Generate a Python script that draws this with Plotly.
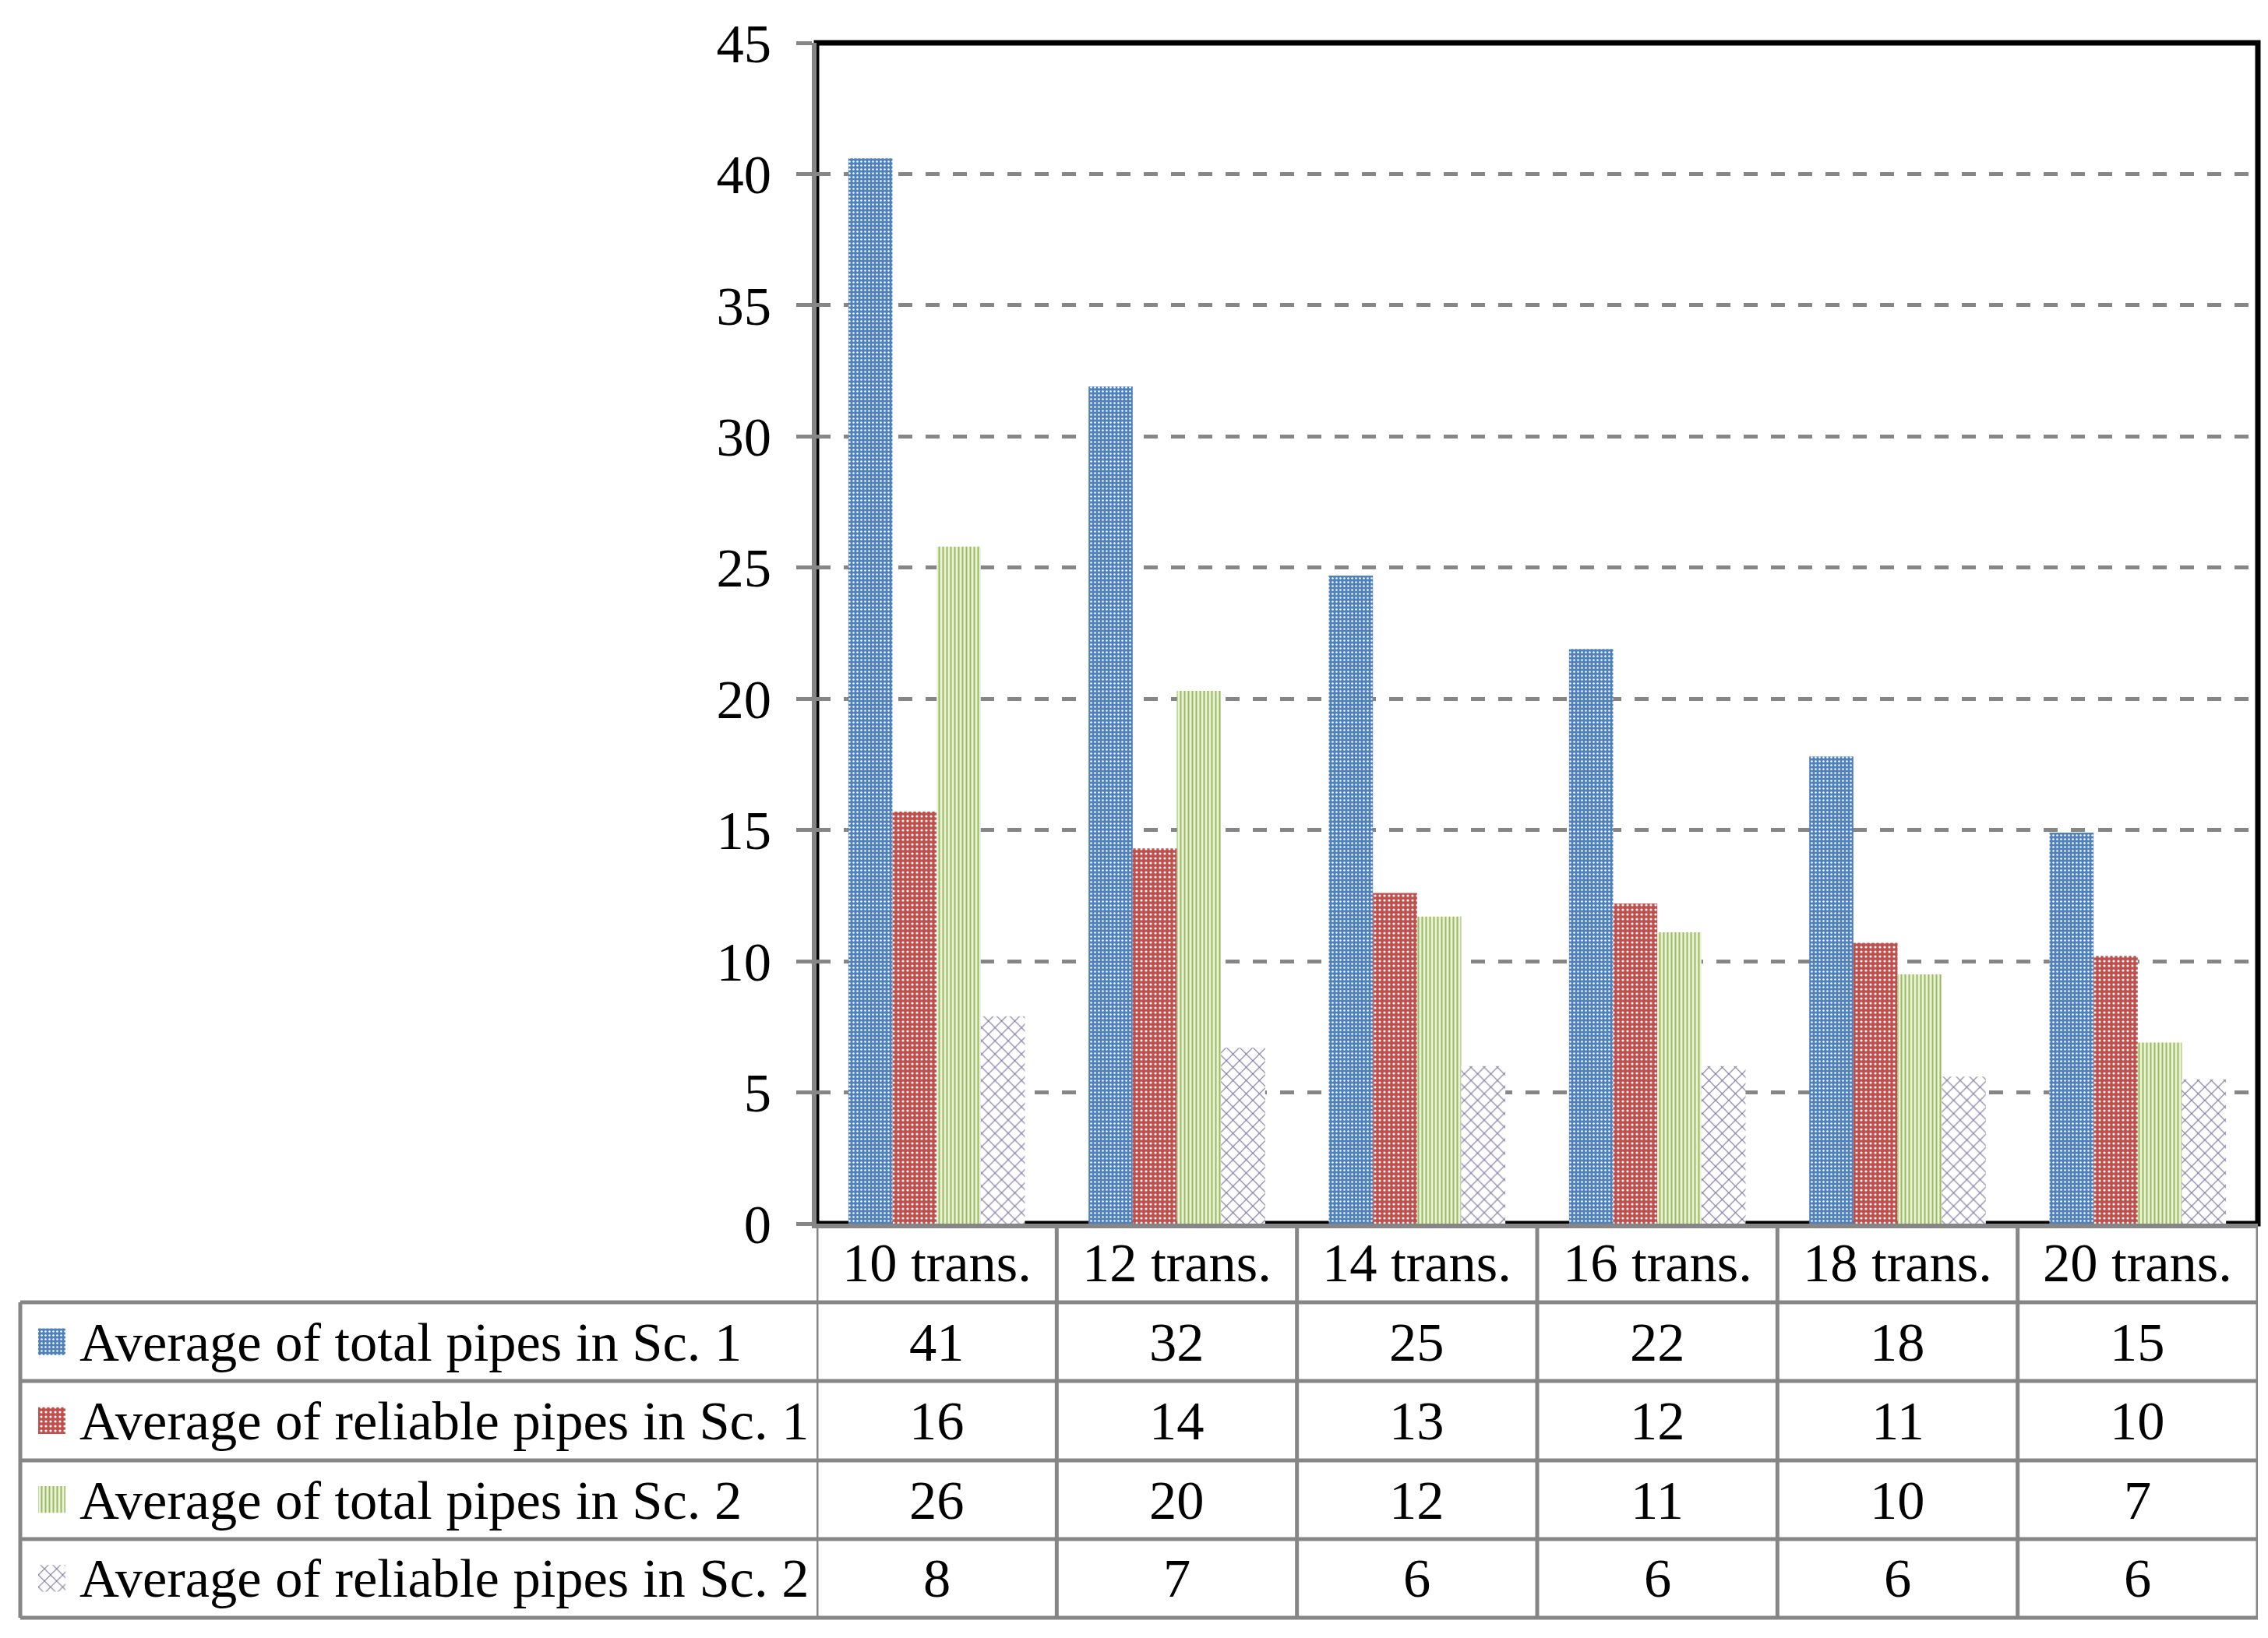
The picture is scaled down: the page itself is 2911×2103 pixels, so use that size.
import plotly.graph_objects as go

# ---- data ----
categories = ["10 trans.", "12 trans.", "14 trans.", "16 trans.", "18 trans.", "20 trans."]

series_names = [
    "Average of total pipes in Sc. 1",
    "Average of reliable pipes in Sc. 1",
    "Average of total pipes in Sc. 2",
    "Average of reliable pipes in Sc. 2",
]

total_sc1 = [40.6, 31.9, 24.7, 21.9, 17.8, 14.9]
reliable_sc1 = [15.7, 14.3, 12.6, 12.2, 10.7, 10.2]
total_sc2 = [25.8, 20.3, 11.7, 11.1, 9.5, 6.9]
reliable_sc2 = [7.9, 6.7, 6.0, 6.0, 5.6, 5.5]

table_total_sc1 = [41, 32, 25, 22, 18, 15]
table_reliable_sc1 = [16, 14, 13, 12, 11, 10]
table_total_sc2 = [26, 20, 12, 11, 10, 7]
table_reliable_sc2 = [8, 7, 6, 6, 6, 6]

y_ticks = [0, 5, 10, 15, 20, 25, 30, 35, 40, 45]

# ---- styling ----
FONT = "Liberation Serif"
FS = 70.5
GRAY = "#868686"

# pattern styles per series (blue dots, red dots, green stripes, purple cross-hatch)
pat_shape = [".", ".", "|", "x"]
pat_fg = ["white", "white", "#9BBB59", "#7D739E"]
pat_bg = ["#4F81BD", "#C0504D", "#EAF1DD", "white"]
pat_size = [5, 6, 5, 12]
pat_sol = [0.2, 0.22, 0.4, 0.19]

# page has an 8px body margin; vertical targets get a small correction
BODY = 8
VS = 1.0165


def vy(Y):
    return Y * VS


TABLE_LEFT, PLOT_RIGHT = 26, 2898
PLOT_TOP, TABLE_BOTTOM = vy(54), vy(2076)
AXIS_LEFT = 1048
ZERO_Y = vy(1570)
row_lines = [vy(y) for y in (1570, 1671, 1772, 1874, 1975, 2076)]

W = 2911 - 2 * BODY
H = round(TABLE_BOTTOM - BODY + 12)

M_L = TABLE_LEFT - BODY
M_R = W - (PLOT_RIGHT - BODY)
M_T = PLOT_TOP - BODY
M_B = H - (TABLE_BOTTOM - BODY)
plot_w = PLOT_RIGHT - TABLE_LEFT
plot_h = TABLE_BOTTOM - PLOT_TOP


def px_x(X):
    return (X - TABLE_LEFT) / plot_w


def px_y(Y):
    return (TABLE_BOTTOM - Y) / plot_h


values = [total_sc1, reliable_sc1, total_sc2, reliable_sc2]
table_vals = [table_total_sc1, table_reliable_sc1, table_total_sc2, table_reliable_sc2]

fig = go.Figure()

for i, name in enumerate(series_names):
    fig.add_trace(go.Bar(
        x=categories, y=values[i], name=name,
        marker=dict(
            color=pat_bg[i],
            line=dict(width=0),
            pattern=dict(shape=pat_shape[i], fgcolor=pat_fg[i], bgcolor=pat_bg[i],
                         size=pat_size[i], solidity=pat_sol[i], fillmode="replace"),
        ),
        showlegend=False,
    ))

# small patterned squares in the table's legend column
for i, name in enumerate(series_names):
    fig.add_trace(go.Bar(
        x=[1], y=[name], orientation="h",
        xaxis="x2", yaxis="y2", width=0.34, offset=-0.17, showlegend=False,
        marker=dict(
            color=pat_bg[i],
            line=dict(width=0),
            pattern=dict(shape=pat_shape[i], fgcolor=pat_fg[i], bgcolor=pat_bg[i],
                         size=[5, 6, 5, 11][i], solidity=pat_sol[i], fillmode="replace"),
        ),
    ))

shapes = []
# black frame around the plot area
shapes.append(dict(type="rect", xref="x domain", yref="y domain", x0=0, x1=1, y0=0, y1=1,
                   line=dict(color="black", width=7), layer="below"))
# table horizontal rules
for Y in row_lines[1:]:
    shapes.append(dict(type="line", xref="paper", yref="paper", x0=0, x1=1,
                       y0=px_y(Y), y1=px_y(Y), line=dict(color=GRAY, width=5)))
# table left border
shapes.append(dict(type="line", xref="paper", yref="paper", x0=0, x1=0,
                   y0=px_y(row_lines[-1]), y1=px_y(row_lines[1]), line=dict(color=GRAY, width=5)))
# category column dividers
for k in range(len(categories) + 1):
    shapes.append(dict(type="line", xref="x", yref="paper", x0=k - 0.5, x1=k - 0.5,
                       y0=0, y1=px_y(ZERO_Y), line=dict(color=GRAY, width=5)))

txt = dict(family=FONT, size=FS, color="black")
annotations = []
# category header row
for c in categories:
    annotations.append(dict(x=c, xref="x", yref="paper", xanchor="center", yanchor="middle",
                            y=px_y((row_lines[0] + row_lines[1]) / 2),
                            text=c, showarrow=False, font=txt))
# data rows
for r, name in enumerate(series_names):
    yc = px_y((row_lines[r + 1] + row_lines[r + 2]) / 2)
    annotations.append(dict(x=px_x(100), xref="paper", yref="paper", y=yc,
                            xanchor="left", yanchor="middle",
                            text=name, showarrow=False, font=txt))
    for c, v in zip(categories, table_vals[r]):
        annotations.append(dict(x=c, xref="x", yref="paper", y=yc, text=str(v),
                                xanchor="center", yanchor="middle",
                                showarrow=False, font=txt))

fig.update_layout(
    width=W, height=H,
    margin=dict(l=M_L, r=M_R, t=M_T, b=M_B, pad=0),
    paper_bgcolor="white", plot_bgcolor="white",
    barmode="group", bargap=0.265, bargroupgap=0,
    font=txt,
    xaxis=dict(domain=[px_x(AXIS_LEFT), 1], range=[-0.5, 5.5], showticklabels=False,
               ticks="", showgrid=False, zeroline=False, showline=True,
               linecolor=GRAY, linewidth=6, anchor="y"),
    yaxis=dict(domain=[px_y(ZERO_Y), 1], range=[0, 45], tickvals=y_ticks,
               showgrid=True, gridcolor=GRAY, gridwidth=5, griddash="18px,17px",
               zeroline=False, showline=True, linecolor=GRAY, linewidth=6,
               ticks="outside", ticklen=20, tickwidth=5, tickcolor=GRAY,
               ticklabelstandoff=18, tickfont=txt, anchor="x"),
    xaxis2=dict(domain=[0, px_x(AXIS_LEFT)], range=[-0.657, 28.54], visible=False,
                anchor="y2"),
    yaxis2=dict(domain=[0, px_y(row_lines[1])], range=[3.5, -0.5], visible=False,
                anchor="x2", type="category", categoryarray=series_names),
    shapes=shapes,
    annotations=annotations,
)

fig.write_html("out.html")
